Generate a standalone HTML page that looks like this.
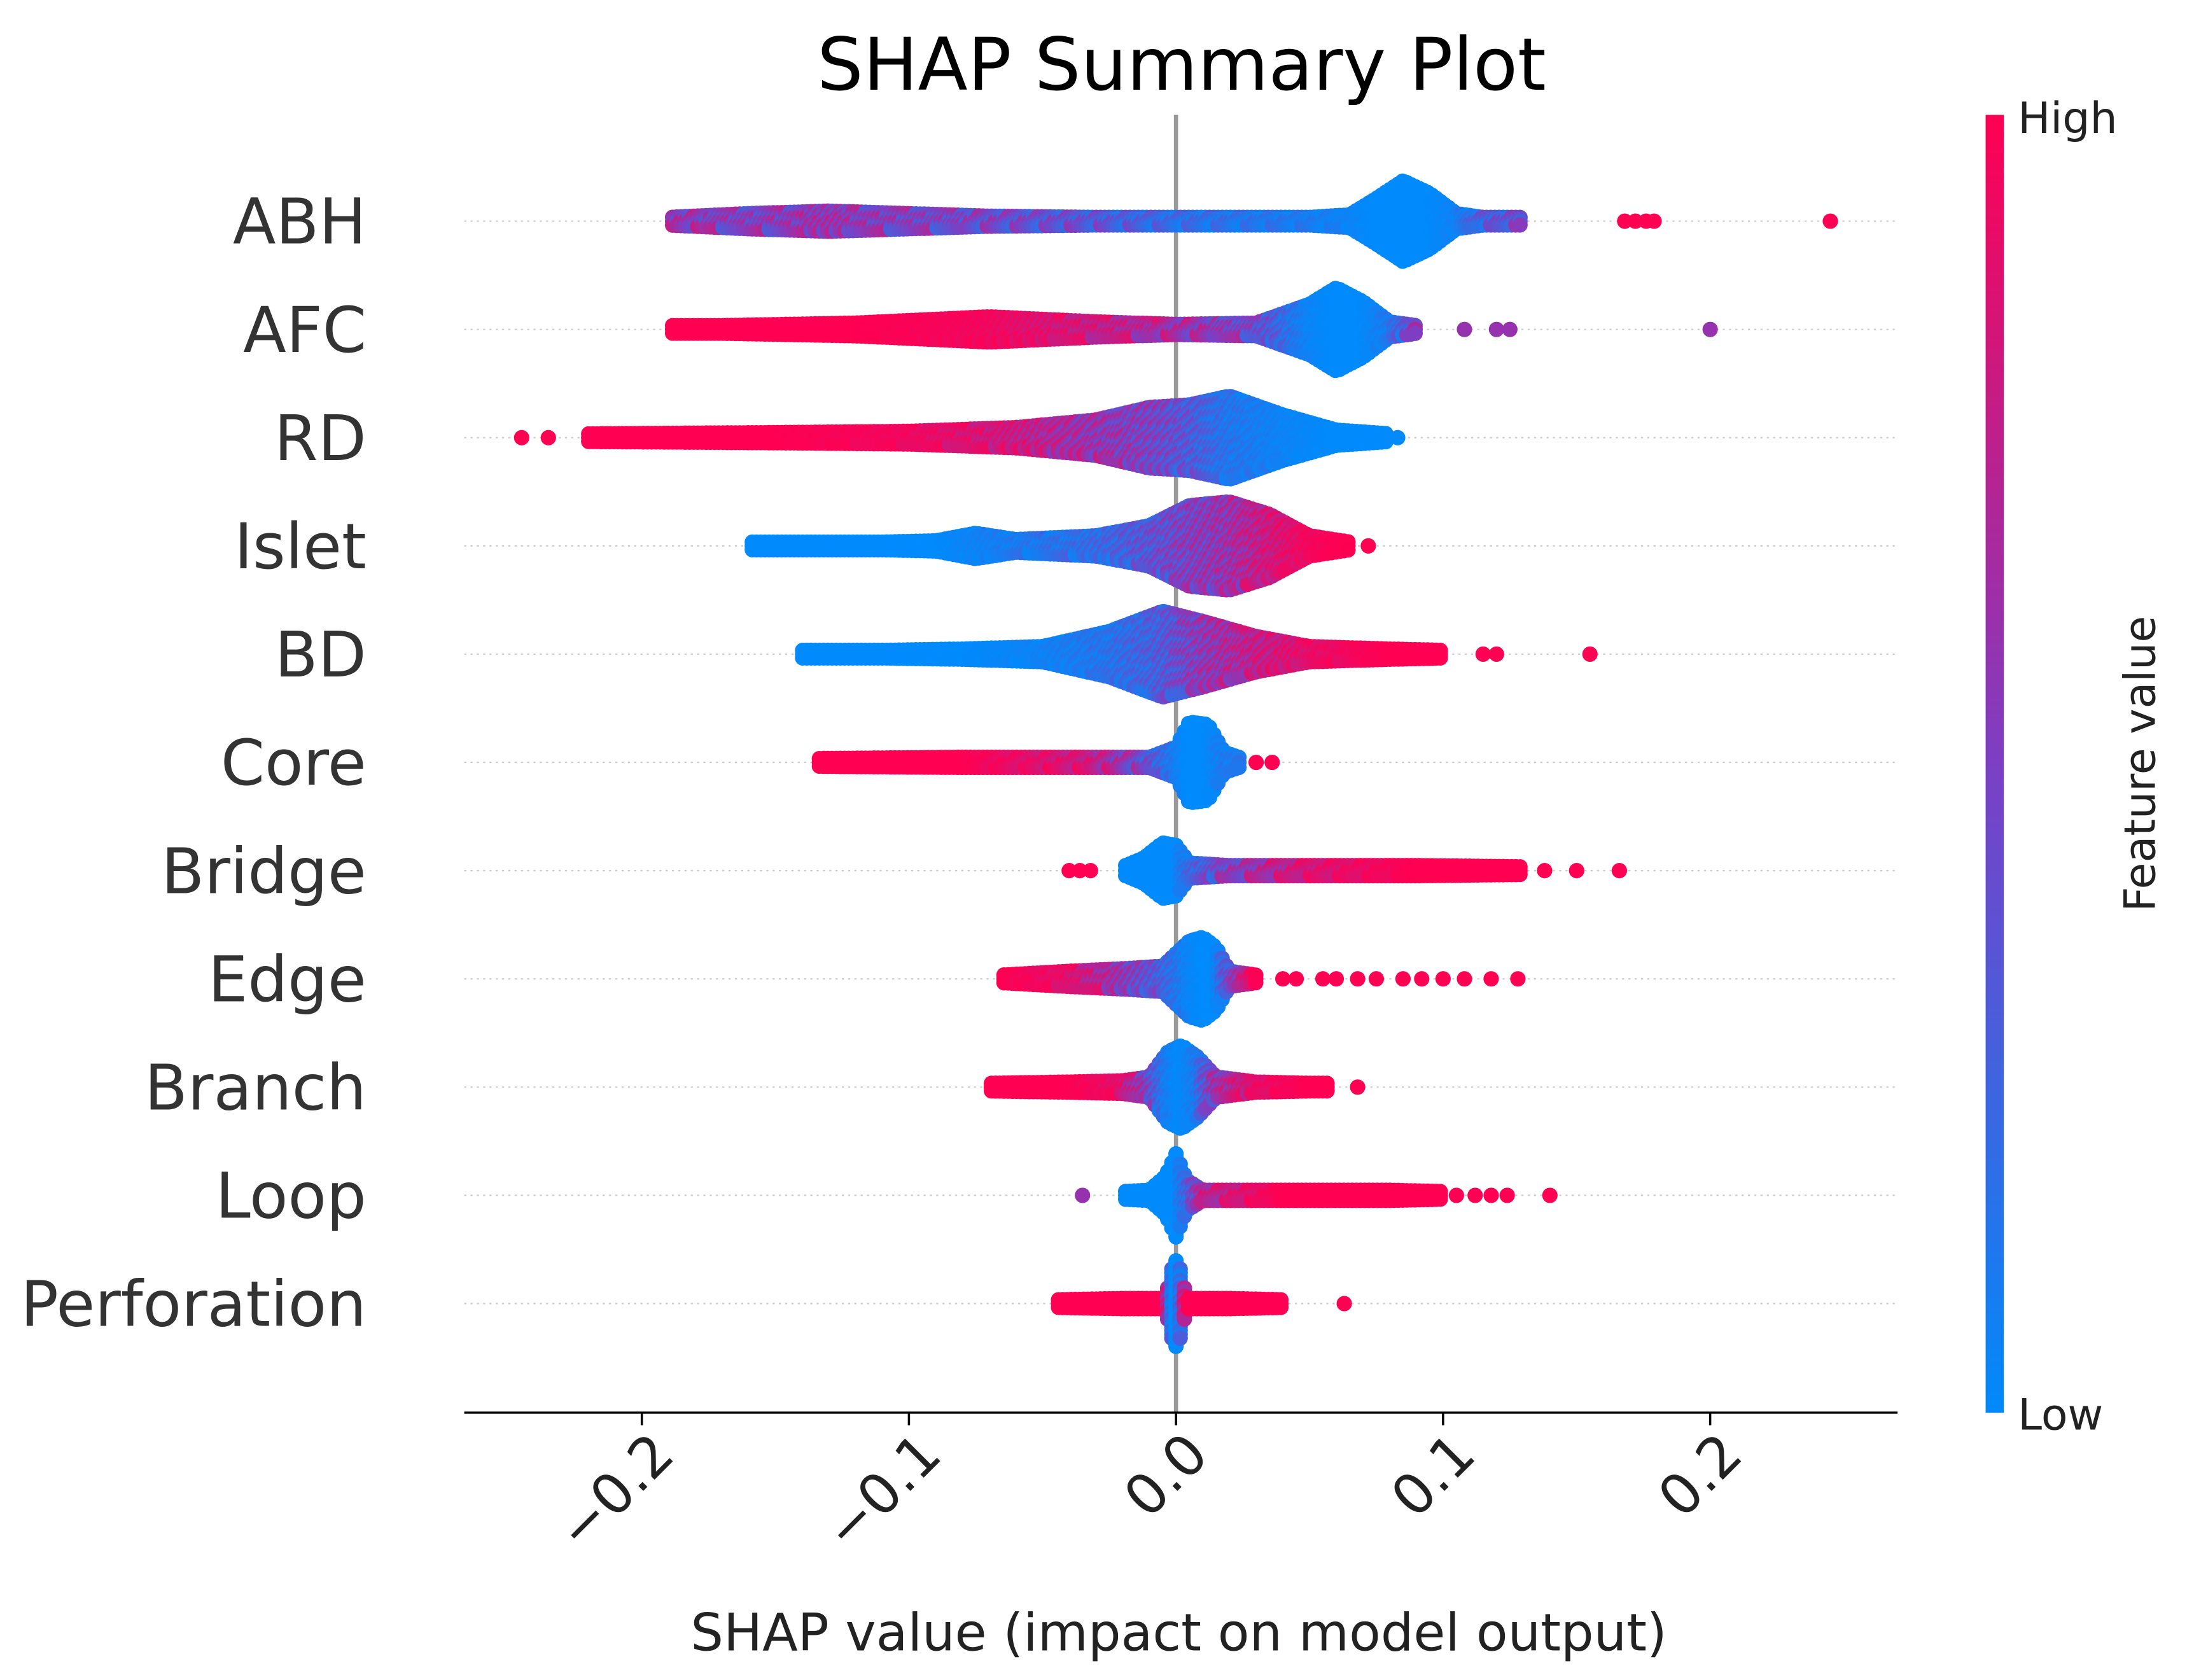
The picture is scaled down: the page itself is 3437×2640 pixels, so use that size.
<!DOCTYPE html>
<html>
<head>
<meta charset="utf-8">
<style>
html,body{margin:0;padding:0;background:#fff;}
svg{display:block;}
text{font-family:"DejaVu Sans","Liberation Sans",sans-serif;}
</style>
</head>
<body>
<svg id="chart" width="3437" height="2640" viewBox="0 0 1564 1201" xmlns="http://www.w3.org/2000/svg">
  <defs>
    <linearGradient id="cbar" x1="0" y1="1" x2="0" y2="0">
      <stop offset="0" stop-color="#008afb"/>
      <stop offset="0.5" stop-color="#7c3fc4"/>
      <stop offset="1" stop-color="#ff0052"/>
    </linearGradient>
  </defs>
  <text x="845" y="64" font-size="52" text-anchor="middle" fill="#000">SHAP Summary Plot</text>
  <g id="grid"></g>
  <line x1="841" y1="82" x2="841" y2="1010" stroke="#999" stroke-width="3"/>
  <g id="dots"></g>
  <g id="labels"></g>
  <line x1="332" y1="1010" x2="1357" y2="1010" stroke="#000" stroke-width="1.6"/>
  <g id="xticks"></g>
  <text x="843" y="1180" font-size="37" text-anchor="middle" fill="#222">SHAP value (impact on model output)</text>
  <rect x="1420" y="82" width="13" height="928" fill="url(#cbar)"/>
  <text x="1443" y="95" font-size="31" fill="#222">High</text>
  <text x="1443" y="1022" font-size="31" fill="#222">Low</text>
  <text x="0" y="0" font-size="31" text-anchor="middle" fill="#222" transform="translate(1541,546) rotate(-90)">Feature value</text>
</svg>
<script>
const features = ["ABH","AFC","RD","Islet","BD","Core","Bridge","Edge","Branch","Loop","Perforation"];
const xTicks = [-0.2,-0.1,0.0,0.1,0.2];
const xTickLabels = ["\u22120.2","\u22120.1","0.0","0.1","0.2"];

const abhX = [-0.19,-0.16,-0.13,-0.1,-0.07,-0.03,0,0.05,0.065,0.075,0.085,0.095,0.105,0.115,0.13];
const abhW = [3,6,8,6,4,3,3,3,5,18,32,22,6,3,3];
const abhC = [0.6,0.5,0.6,0.5,0.45,0.35,0.2,0.1,0.05,0,0,0,0.05,0.3,0.4];
const abhOutX = [0.168,0.172,0.176,0.179,0.245];
const abhOutC = [1,1,1,1,1];

const afcX = [-0.19,-0.17,-0.12,-0.07,-0.03,0,0.03,0.05,0.06,0.07,0.08,0.09];
const afcW = [3,3,5,10,6,4,5,20,33,22,6,3];
const afcC = [1,1,1,0.95,0.8,0.65,0.45,0.05,0,0,0.1,0.5];
const afcOutX = [-0.186,0.108,0.12,0.125,0.2];
const afcOutC = [1,0.6,0.6,0.6,0.6];

const rdX = [-0.22,-0.15,-0.1,-0.06,-0.03,-0.01,0.005,0.02,0.04,0.06,0.08];
const rdW = [3,4,5,8,14,24,26,33,18,6,3];
const rdC = [1,1,0.95,0.8,0.6,0.5,0.35,0.15,0.05,0,0];
const rdOutX = [-0.245,-0.235,0.083];
const rdOutC = [1,1,0];

const isletX = [-0.16,-0.13,-0.11,-0.09,-0.075,-0.06,-0.03,-0.01,0.005,0.02,0.035,0.05,0.065];
const isletW = [3,3,3,4,10,5,8,16,32,35,25,8,3];
const isletC = [0,0,0,0,0.05,0.1,0.2,0.35,0.5,0.6,0.8,0.95,1];
const isletOutX = [0.072];
const isletOutC = [1];

const bdX = [-0.14,-0.11,-0.08,-0.05,-0.025,-0.005,0.01,0.03,0.05,0.08,0.1];
const bdW = [3,3,4,6,18,34,26,14,6,4,3];
const bdC = [0,0,0,0.05,0.15,0.3,0.55,0.75,0.9,1,1];
const bdOutX = [0.115,0.12,0.155];
const bdOutC = [1,1,1];

const coreX = [-0.135,-0.08,-0.03,-0.01,0,0.005,0.012,0.018,0.025];
const coreW = [3,4,4,4,12,32,30,8,3];
const coreC = [1,1,0.8,0.4,0.1,0,0,0.1,0.1];
const coreOutX = [0.03,0.036];
const coreOutC = [1,1];

const bridgeX = [-0.02,-0.012,-0.005,0,0.005,0.02,0.05,0.09,0.13];
const bridgeW = [3,10,22,20,6,4,4,4,3];
const bridgeC = [0,0,0,0,0.2,0.5,0.85,1,1];
const bridgeOutX = [-0.04,-0.036,-0.032,0.138,0.15,0.166];
const bridgeOutC = [1,1,1,1,1,1];

const edgeX = [-0.065,-0.04,-0.02,-0.005,0.005,0.01,0.015,0.02,0.03];
const edgeW = [3,6,8,10,30,33,25,6,3];
const edgeC = [1,0.9,0.6,0.3,0.05,0,0,0.4,1];
const edgeOutX = [0.04,0.045,0.055,0.06,0.068,0.075,0.085,0.092,0.1,0.108,0.118,0.128];
const edgeOutC = [1,1,1,1,1,1,1,1,1,1,1,1];

const branchX = [-0.07,-0.04,-0.02,-0.01,-0.003,0.002,0.008,0.015,0.03,0.05,0.058];
const branchW = [3,4,5,8,28,33,24,8,4,3,3];
const branchC = [1,1,0.9,0.5,0.1,0,0.1,0.6,0.9,1,1];
const branchOutX = [0.068];
const branchOutC = [1];

const loopX = [-0.02,-0.01,-0.004,0,0.004,0.01,0.04,0.08,0.1];
const loopW = [3,4,15,33,12,4,4,4,3];
const loopC = [0,0,0,0,0.2,0.7,1,1,1];
const loopOutX = [-0.035,0.105,0.112,0.118,0.124,0.14];
const loopOutC = [0.6,1,1,1,1,1];

const perfX = [-0.045,-0.02,-0.004,-0.001,0,0.001,0.004,0.02,0.04];
const perfW = [3,4,4,33,34,33,4,4,3];
const perfC = [1,1,1,0,0,0,1,1,1];
const perfOutX = [0.063];
const perfOutC = [1];

const rowX = [abhX,afcX,rdX,isletX,bdX,coreX,bridgeX,edgeX,branchX,loopX,perfX];
const rowW = [abhW,afcW,rdW,isletW,bdW,coreW,bridgeW,edgeW,branchW,loopW,perfW];
const rowC = [abhC,afcC,rdC,isletC,bdC,coreC,bridgeC,edgeC,branchC,loopC,perfC];
const rowOutX = [abhOutX,afcOutX,rdOutX,isletOutX,bdOutX,coreOutX,bridgeOutX,edgeOutX,branchOutX,loopOutX,perfOutX];
const rowOutC = [abhOutC,afcOutC,rdOutC,isletOutC,bdOutC,coreOutC,bridgeOutC,edgeOutC,branchOutC,loopOutC,perfOutC];

const NS = "http://www.w3.org/2000/svg";
const xScale = v => 841 + v * 1910;
const yRow = i => 158 + i * 77.4;
function cmap(t){
  t = Math.max(0, Math.min(1, t));
  const a=[0,138,251], m=[124,63,196], b=[255,0,82];
  let r,g,bb;
  if(t<0.5){const s=t/0.5; r=a[0]+(m[0]-a[0])*s; g=a[1]+(m[1]-a[1])*s; bb=a[2]+(m[2]-a[2])*s;}
  else {const s=(t-0.5)/0.5; r=m[0]+(b[0]-m[0])*s; g=m[1]+(b[1]-m[1])*s; bb=m[2]+(b[2]-m[2])*s;}
  return `rgb(${Math.round(r)},${Math.round(g)},${Math.round(bb)})`;
}
function interp(xs, ys, v){
  if(v<=xs[0]) return ys[0];
  for(let k=1;k<xs.length;k++){
    if(v<=xs[k]){const s=(v-xs[k-1])/(xs[k]-xs[k-1]); return ys[k-1]+(ys[k]-ys[k-1])*s;}
  }
  return ys[ys.length-1];
}

const grid = document.getElementById('grid');
const labels = document.getElementById('labels');
const dots = document.getElementById('dots');
features.forEach((f,i)=>{
  const y = yRow(i);
  const gl = document.createElementNS(NS,'line');
  
  
  gl.setAttribute('x1',332); gl.setAttribute('x2',1357);
  gl.setAttribute('y1',y); gl.setAttribute('y2',y);
  gl.setAttribute('stroke','#ccc'); gl.setAttribute('stroke-width','1');
  gl.setAttribute('stroke-dasharray','1.5 3');
  grid.appendChild(gl);
  const t = document.createElementNS(NS,'text');
  
  
  t.setAttribute('x',262); t.setAttribute('y',y+16);
  t.setAttribute('font-size','45'); t.setAttribute('text-anchor','end'); t.setAttribute('fill','#333');
  t.textContent = f;
  labels.appendChild(t);
});

let n = 0;
rowX.forEach((xs,i)=>{
  const ws = rowW[i], cs = rowC[i], y0 = yRow(i);
  const g = document.createElementNS(NS,'g');
  
  
  const p0 = xScale(xs[0]), p1 = xScale(xs[xs.length-1]);
  const kStart = Math.ceil((p0-841)/3), kEnd = Math.floor((p1-841)/3);
  let html = '';
  for(let k=kStart;k<=kEnd;k++){
    const px = 841 + k*3;
    const v = (px-841)/1910;
    const w = interp(xs, ws, v);
    const c = interp(xs, cs, v);
    const m = Math.max(0, Math.round(w/3));
    for(let j=-m;j<=m;j++){
      n++;
      const t = (n*0.6180339887)%1;
      const spread = 4*c*(1-c);
      const fv = c + (t-0.5)*0.45*spread;
      const yy = y0 + j*(w/Math.max(m,1))*0.9;
      html += `<circle cx="${px}" cy="${yy.toFixed(1)}" r="5.5" fill="${cmap(fv)}"/>`;
    }
  }
  rowOutX[i].forEach((v,q)=>{
    html += `<circle cx="${xScale(v)}" cy="${y0}" r="5.5" fill="${cmap(rowOutC[i][q])}"/>`;
  });
  g.innerHTML = html;
  dots.appendChild(g);
});

const xt = document.getElementById('xticks');
xTicks.forEach((v,i)=>{
  const px = xScale(v);
  const l = document.createElementNS(NS,'line');
  
  
  l.setAttribute('x1',px); l.setAttribute('x2',px); l.setAttribute('y1',1010); l.setAttribute('y2',1019);
  l.setAttribute('stroke','#000'); l.setAttribute('stroke-width','1.6');
  xt.appendChild(l);
  const t = document.createElementNS(NS,'text');
  
  
  t.setAttribute('font-size','40'); t.setAttribute('text-anchor','end'); t.setAttribute('fill','#222');
  t.setAttribute('transform',`translate(${px+25},${1042}) rotate(-45)`);
  t.textContent = xTickLabels[i];
  xt.appendChild(t);
});
</script>
</body>
</html>
